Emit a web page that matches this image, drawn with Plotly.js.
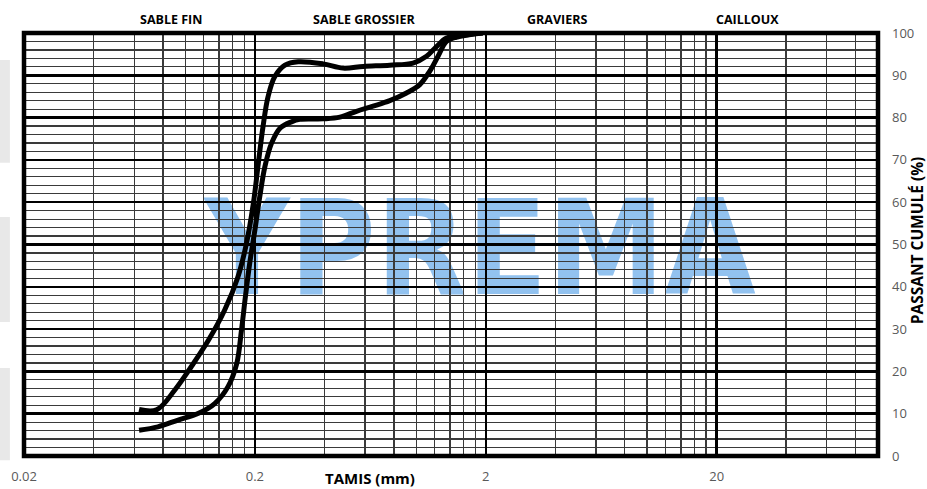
<!DOCTYPE html>
<html>
<head>
<meta charset="utf-8">
<script src="https://cdn.plot.ly/plotly-3.0.1.min.js"></script>
<style>html,body{margin:0;padding:0;background:#fff;}#chart{width:927px;height:489px;}</style>
</head>
<body>
<div id="chart"></div>
<script>
// Sieve sizes (mm) and cumulative passing (%) for the two curves
const sizesA = [0.063,0.075,0.090,0.106,0.126,0.148,0.169,0.184,0.197,0.207,0.217,0.228,0.244,0.270,0.308,0.395,0.482,0.589,0.768,0.969,1.108,1.224,1.352,1.595,1.94];
const passA  = [11.0,10.9,15.6,21.1,27.4,34.5,42.4,50.3,59.7,69.2,77.9,84.9,89.7,92.4,93.2,92.7,91.7,92.1,92.4,92.9,94.5,96.8,98.8,99.5,100];
const sizesB = [0.063,0.076,0.093,0.114,0.134,0.153,0.167,0.175,0.182,0.190,0.200,0.210,0.221,0.236,0.257,0.288,0.313,0.395,0.467,0.551,0.650,0.768,0.907,1.036,1.145,1.243,1.352,1.49,1.94];
const passB  = [6.1,6.9,8.5,10.1,12.4,16.4,21.9,29.8,37.7,45.6,53.4,61.3,68.4,73.9,77.5,79.0,79.6,79.7,80.1,81.5,82.7,84.0,85.8,87.8,91.0,94.5,98.0,99.0,100];

// Axis labels
const xTickVals = [0.02, 0.2, 2, 20];
const xTickText = ['0.02', '0.2', '2', '20'];
const xMinorVals = [0.04,0.06,0.08,0.1,0.12,0.14,0.16,0.18,
                    0.4,0.6,0.8,1,1.2,1.4,1.6,1.8,
                    4,6,8,10,12,14,16,18,
                    40,60,80];
const zoneLabels = ['SABLE FIN', 'SABLE GROSSIER', 'GRAVIERS', 'CAILLOUX'];
const zoneX = [0.172, 0.398, 0.624, 0.847];

const lineStyle = {color: '#000', width: 5, shape: 'spline', smoothing: 1};
const traces = [
  {x: sizesA, y: passA, type: 'scatter', mode: 'lines', line: lineStyle, hoverinfo: 'skip', showlegend: false},
  {x: sizesB, y: passB, type: 'scatter', mode: 'lines', line: lineStyle, hoverinfo: 'skip', showlegend: false}
];

const baseFont = 'Open Sans, Liberation Sans, sans-serif';
const annotations = zoneLabels.map((t, i) => ({
  text: '<b>' + t + '</b>', xref: 'paper', yref: 'paper', x: zoneX[i], y: 1.033,
  showarrow: false, font: {family: baseFont, size: 12.5, color: '#000'}, xanchor: 'center', yanchor: 'middle'
}));
annotations.push({
  text: '<b>TAMIS (mm)</b>', xref: 'paper', yref: 'paper', x: 0.405, y: -0.052,
  showarrow: false, font: {family: baseFont, size: 15, color: '#000'}, xanchor: 'center', yanchor: 'middle'
});
annotations.push({
  text: '<b>PASSANT CUMULÉ (%)</b>', xref: 'paper', yref: 'paper', x: 1.0457, y: 0.51,
  textangle: -90, showarrow: false, font: {family: baseFont, size: 15.5, color: '#000'}, xanchor: 'center', yanchor: 'middle'
});

const shapes = [
  // watermark
  {type: 'rect', xref: 'paper', yref: 'paper', x0: 0.212, x1: 0.856, y0: 0.381, y1: 0.641,
   line: {width: 0}, fillcolor: 'rgba(0,0,0,0)', layer: 'below',
   label: {text: '<b>YPREMA</b>', textposition: 'middle center',
           font: {family: 'DejaVu Sans Condensed, DejaVu Sans, sans-serif', size: 131, color: '#92c2ef'}}},
  // left grey boxes
  {type: 'rect', xref: 'paper', yref: 'paper', x0: -0.0281, x1: -0.0165, y0: 0.693, y1: 0.936, line: {width: 0}, fillcolor: '#e8e8e8', layer: 'below'},
  {type: 'rect', xref: 'paper', yref: 'paper', x0: -0.0281, x1: -0.0165, y0: 0.317, y1: 0.565, line: {width: 0}, fillcolor: '#e8e8e8', layer: 'below'},
  {type: 'rect', xref: 'paper', yref: 'paper', x0: -0.0281, x1: -0.0165, y0: -0.01, y1: 0.208, line: {width: 0}, fillcolor: '#e8e8e8', layer: 'below'},
  // frame
  {type: 'rect', xref: 'paper', yref: 'paper', x0: 0, x1: 1, y0: 0, y1: 1, line: {color: '#000', width: 4.5}, fillcolor: 'rgba(0,0,0,0)', layer: 'above'}
];

const layout = {
  width: 927, height: 489,
  margin: {l: 24, r: 49, t: 33, b: 33, pad: 0},
  paper_bgcolor: '#fff', plot_bgcolor: 'rgba(0,0,0,0)',
  showlegend: false,
  xaxis: {
    type: 'log', range: [Math.log10(0.02), Math.log10(100)],
    tickmode: 'array', tickvals: xTickVals, ticktext: xTickText,
    showgrid: true, gridcolor: '#000', gridwidth: 2.5,
    minor: {tickmode: 'array', tickvals: xMinorVals, showgrid: true, gridcolor: '#3a3a3a', gridwidth: 1.3, ticks: ''},
    ticks: '', ticklabelstandoff: 11, tickfont: {family: baseFont, size: 13, color: '#595959'},
    zeroline: false, showline: false, fixedrange: true
  },
  yaxis: {
    range: [0, 100], side: 'right', tickmode: 'linear', tick0: 0, dtick: 10,
    showgrid: true, gridcolor: '#000', gridwidth: 2.5,
    minor: {dtick: 2, showgrid: true, gridcolor: '#3a3a3a', gridwidth: 1.2, ticks: ''},
    ticks: '', ticklabelstandoff: 13, tickfont: {family: baseFont, size: 13, color: '#595959'},
    zeroline: false, showline: false, fixedrange: true
  },
  annotations: annotations,
  shapes: shapes
};

Plotly.newPlot('chart', traces, layout, {staticPlot: true, displayModeBar: false});
</script>
</body>
</html>
